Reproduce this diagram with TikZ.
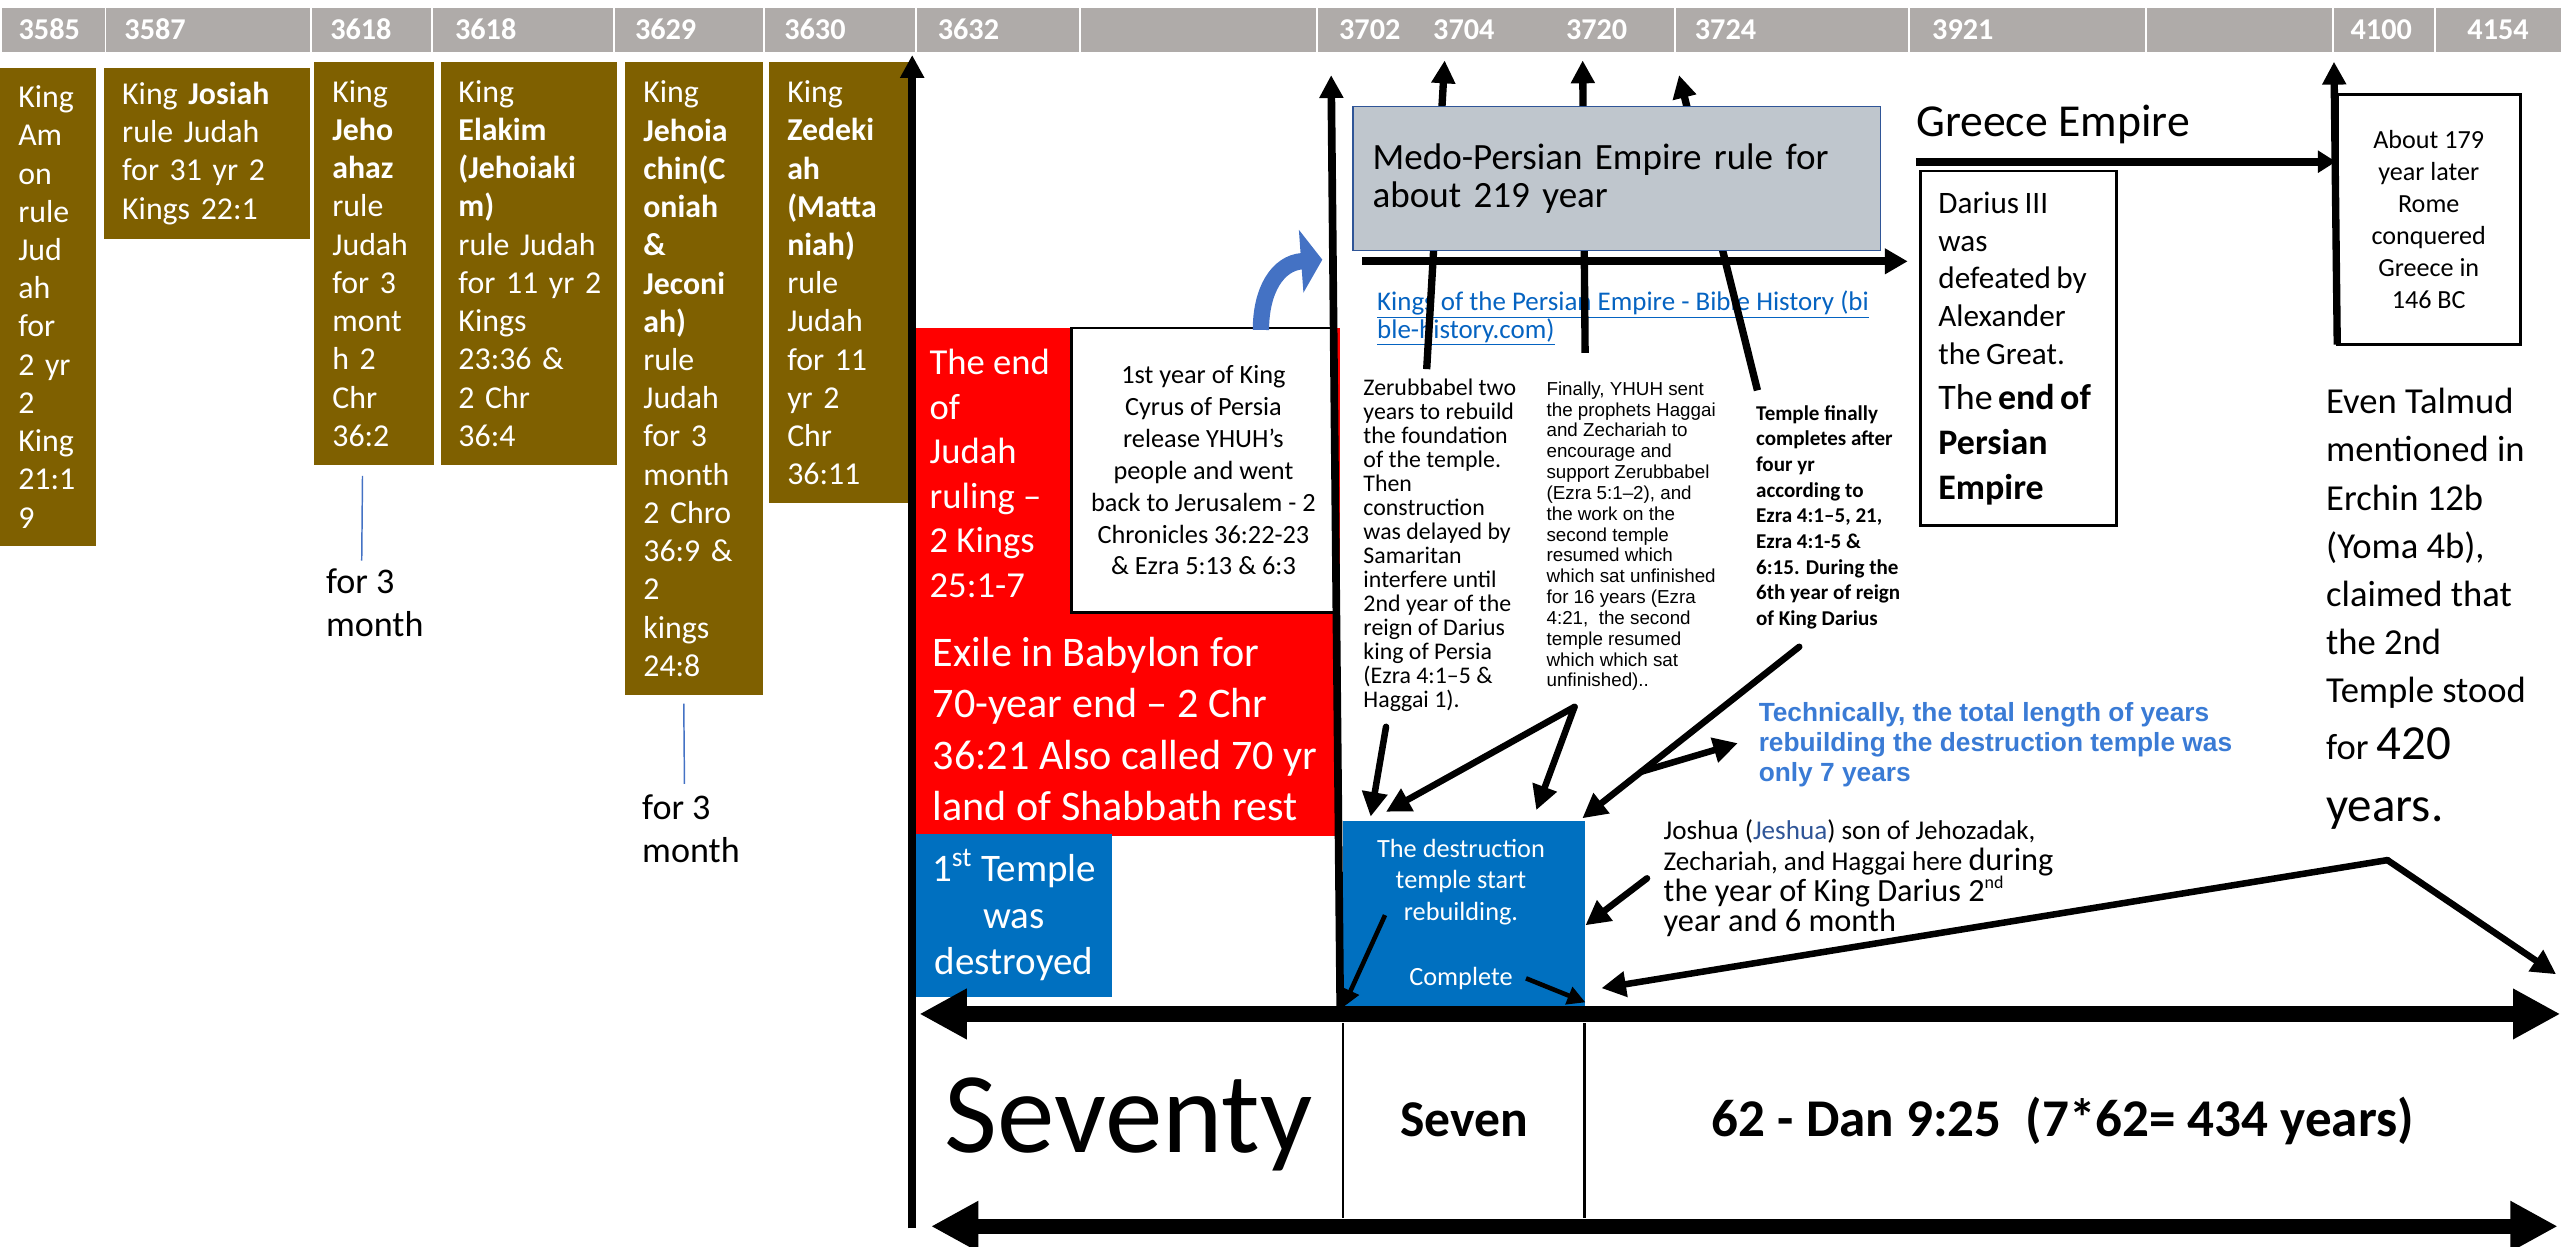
\documentclass[tikz,border=0pt]{standalone}
\usepackage{fontspec}
\setmainfont{Carlito}
\newfontfamily\arialfont{Liberation Sans}
\usetikzlibrary{arrows.meta}
\definecolor{kingbrown}{HTML}{7F6000}
\definecolor{bargray}{RGB}{175,171,169}
\definecolor{exilered}{HTML}{FF0000}
\definecolor{templeblue}{HTML}{0070C0}
\definecolor{medogray}{RGB}{191,198,205}
\definecolor{medoedge}{HTML}{2F5597}
\definecolor{curveblue}{HTML}{4472C4}
\definecolor{linkblue}{HTML}{0563C1}
\definecolor{noteblue}{HTML}{3A7BD5}
\definecolor{jeshuablue}{HTML}{2F5597}
\newcommand{\fsz}[2]{\fontsize{#1}{#2}\selectfont}

\begin{document}
\begin{tikzpicture}[x=1pt,y=-1pt,line join=miter]
	\tikzstyle{yearcell}=[draw=white,line width=1.2pt,fill=bargray,anchor=north west,minimum height=28.3pt,inner sep=0pt]
	\tikzstyle{yearlabel}=[anchor=west,inner sep=0pt,text=white,font={\fsz{18.5}{20}\bfseries}]
	\tikzstyle{kingbox}=[fill=kingbrown,text=white,anchor=north west,align=left,inner xsep=11pt,inner ysep=0pt,font={\fsz{19.5}{23.4}}]
	\tikzstyle{plain}=[anchor=north west,align=left,inner sep=0pt]
	\tikzstyle{uparrow}=[line width=4.5pt,-{Triangle[length=14pt,width=14pt]}]
	\tikzstyle{pointer}=[line width=4pt,line cap=round,-{Triangle[length=15pt,width=15pt]}]
	\tikzstyle{smallpointer}=[line width=2.8pt,-{Triangle[length=11pt,width=11pt]}]
	\tikzstyle{timeline}=[line width=9.5pt,{Triangle[length=29pt,width=29pt]}-{Triangle[length=29pt,width=29pt]}]
	\tikzstyle{monthline}=[curveblue,line width=0.9pt]
	
	\useasboundingbox (0,0) rectangle (1568,763);
	
	\foreach \xa/\xb [count=\i] in {0/64,64/190,190/264,264/375.5,375.5/467,467/560.5,560.5/660.5,660.5/806,806/1025,1025/1168,1168/1313,1313/1427.5,1427.5/1490.5,1490.5/1568}
		\node[yearcell,minimum width={\xb-\xa}] (cell\i) at (\xa,3.7) {};
	\foreach \lx/\yr [count=\i] in {11.2/3585,76/3587,202/3618,278.4/3618,388.6/3629,480/3630,574/3632,819.7/3702,877.3/3704,958.6/3720,1037.5/3724,1182.8/3921,1439/4100,1510.5/4154}
		\node[yearlabel] (year\i) at (\lx,18) {\yr};
	
	\node[kingbox,text width=36.6,minimum height=293] (amon) at (0,41.2)
		{King\\Am\\on\\rule\\Jud\\ah\\for\\2~yr\\2\\King\\21:1\\9};
	\node[kingbox,text width=103.8,minimum height=105] (josiah) at (63.6,41.2)
		{King~\textbf{Josiah}\\rule~Judah\\for~31~yr~2\\Kings~22:1};
	\node[kingbox,text width=51.5,minimum height=246.2] (ahaz) at (192.3,38)
		{King\\\textbf{Jeho}\\\textbf{ahaz}\\rule\\Judah\\for~3\\mont\\h~2\\Chr\\36:2};
	\node[kingbox,text width=85.8,minimum height=246.2] (elakim) at (269.5,38)
		{King\\\textbf{Elakim}\\\textbf{(Jehoiaki}\\\textbf{m)}\\rule~Judah\\for~11~yr~2\\Kings\\23:36~\&\\2~Chr\\36:4};
	\node[kingbox,text width=62.5,minimum height=387.4] (chin) at (382.7,38)
		{King\\\textbf{Jehoia}\\\textbf{chin(C}\\\textbf{oniah}\\\textbf{\&}\\\textbf{Jeconi}\\\textbf{ah)}\\rule\\Judah\\for~3\\month\\2~Chro\\36:9~\&\\2\\kings\\24:8};
	\node[kingbox,text width=63.5,minimum height=270] (zedekiah) at (470.8,38)
		{King\\\textbf{Zedeki}\\\textbf{ah}\\\textbf{(Matta}\\\textbf{niah)}\\rule\\Judah\\for~11\\yr~2\\Chr\\36:11};
	
	\node[plain,font={\fsz{22.1}{26.4}}] (ahazmonth) at (199.4,348.2) {for 3\\month};
	\node[plain,font={\fsz{22.1}{26.4}}] (chinmonth) at (393,486.6) {for 3\\month};
	\draw[monthline] ([xshift=-7.3pt,yshift=-6.8pt]ahaz.south) -- ([xshift=-8pt,yshift=5pt]ahazmonth.north);
	\draw[monthline] ([xshift=-6.5pt,yshift=-5pt]chin.south) -- ([xshift=-4pt,yshift=6.6pt]chinmonth.north);
	
	\node[fill=exilered,anchor=north west,minimum width=260.5,minimum height=311,inner sep=0pt] (redblock) at (560,200.7) {};
	\node[plain,text=white,font={\fsz{22.4}{27.3}}] (judahend) at (569,213.5)
		{The end\\of\\Judah\\ruling –\\2 Kings\\25:1-7};
	\node[plain,text=white,font={\fsz{25.8}{31.4}}] (exile) at (571,390)
		{Exile in Babylon for\\70-year end – 2 Chr\\36:21 Also called 70 yr\\land of Shabbath rest};
	\node[draw=black,line width=1.5pt,fill=white,minimum width=161.5,minimum height=174.3,align=center,font={\fsz{16.1}{19.55}}] (cyrus) at (736.8,287.9)
		{1st year of King\\Cyrus of Persia\\release YHUH’s\\people and went\\back to Jerusalem - 2\\Chronicles 36:22-23\\\& Ezra 5:13 \& 6:3};
	\node[fill=templeblue,text=white,minimum width=119.7,minimum height=99.8,inner sep=0pt,align=center,font={\fsz{23.9}{28.7}}] (firsttemple) at (620.9,560.3)
		{1\textsuperscript{st} Temple\\was\\destroyed};
	
	\coordinate (cyrbase) at (772,202);
	\coordinate (cyrtip) at (809.6,159);
	\draw[curveblue,line width=10pt,-{Triangle[length=13pt,width=38pt]}] (cyrbase) .. controls (772,178) and (782,161) .. (cyrtip);
	
	\node[plain,text=linkblue,font={\fsz{16.5}{17}}] (persianlink) at (843,177.7)
		{\underline{Kings of the Persian Empire - Bible History (bi}\\\underline{ble-history.com)}};
	\coordinate (p1a) at (873.5,226);
	\coordinate (p1b) at (884.5,37);
	\coordinate (p2a) at (970.5,216);
	\coordinate (p2b) at (969,37);
	\coordinate (p3a) at (1076,239);
	\coordinate (p3b) at (1028,46);
	\draw[uparrow] (p1a) -- (p1b);
	\draw[uparrow] (p2a) -- (p2b);
	\draw[uparrow] (p3a) -- (p3b);
	\node[fill=medogray,draw=medoedge,line width=0.8pt,anchor=north west,minimum height=88,text width=299,inner xsep=12pt,align=left,font={\fsz{22.7}{23.5}}] (medo) at (828,65)
		{Medo-Persian Empire rule for\\about 219 year};
	\coordinate (medoa) at (834,160);
	\coordinate (medob) at (1168,160);
	\draw[line width=5pt,-{Triangle[length=14pt,width=15pt]}] (medoa) -- (medob);
	
	\node[plain,font={\fsz{28}{30}}] (greece) at (1173,64.4) {Greece Empire};
	\node[draw=black,line width=1.6pt,anchor=north west,minimum height=217,text width=98,inner xsep=11pt,align=left] (darius) at (1175,104)
		{\fsz{19.1}{23.2}Darius III\\was\\defeated~by\\Alexander\\the Great.\par\fsz{22}{27.5}The~\textbf{end~of}\\\textbf{Persian}\\\textbf{Empire}\par};
	\node[draw=black,line width=1.6pt,minimum width=112,minimum height=153,align=center,font={\fsz{16}{19.6}}] (rome) at (1487,134.5)
		{About 179\\year later\\Rome\\conquered\\Greece in\\146 BC};
	\coordinate (greecea) at (1173,99);
	\draw[line width=5pt,-{Triangle[length=11pt,width=13pt]}] (greecea) -- ([yshift=35.5pt]rome.west);
	\coordinate (romebot) at (1431,211);
	\coordinate (rometop) at (1429,37.8);
	\draw[uparrow] (romebot) -- (rometop);
	\node[plain,font={\fsz{22.4}{29.5}}] (talmud) at (1424,237.5)
		{Even Talmud\\mentioned in\\Erchin 12b\\(Yoma 4b),\\claimed that\\the 2nd\\Temple stood\\[5pt]for {\fsz{30}{36}420}\\[8.5pt]{\fsz{30}{36}years.}};
	
	\node[plain,font={\fsz{14.6}{14.7}}] (zerub) at (834.6,232)
		{Zerubbabel two\\years to rebuild\\the foundation\\of the temple.\\Then\\construction\\was delayed by\\Samaritan\\interfere until\\2nd year of the\\reign of Darius\\king of Persia\\(Ezra 4:1–5 \&\\Haggai 1).};
	\node[plain,font={\arialfont\fsz{11.5}{12.75}}] (yhuh) at (946.7,233.5)
		{Finally, YHUH sent\\the prophets Haggai\\and Zechariah to\\encourage and\\support Zerubbabel\\(Ezra 5:1–2), and\\the work on the\\second temple\\resumed which\\which sat unfinished\\for 16 years (Ezra\\4:21,\ \ the second\\temple resumed\\which which sat\\unfinished)..};
	\node[plain,font={\fsz{12.9}{15.7}\bfseries}] (finished) at (1075,248)
		{Temple finally\\completes after\\four yr\\according to\\Ezra 4:1–5, 21,\\Ezra 4:1-5 \&\\6:15. During the\\6th year of reign\\of King Darius};
	\node[plain,text=noteblue,font={\arialfont\fsz{16.1}{18.3}\bfseries}] (sevenyears) at (1076.6,430)
		{Technically, the total length of years\\rebuilding the destruction temple was\\only 7 years};
	
	\node[fill=templeblue,minimum width=148,minimum height=114,inner sep=0pt] (rebuild) at (896.5,559.5) {};
	\node[text=white,align=center,inner sep=0pt,font={\fsz{16.1}{19.3}}] (rebuildtxt) at (894.5,540)
		{The destruction\\temple start\\rebuilding.};
	\node[text=white,inner sep=0pt,font={\fsz{16.1}{19.3}}] (complete) at (894.5,599) {Complete};
	\node[plain,font={\fsz{16.6}{18.8}}] (joshua) at (1018.4,501.7)
		{Joshua ({\color{jeshuablue}Jeshua}) son of Jehozadak,\\Zechariah, and Haggai here {\fsz{19.8}{18.8}during}\\{\fsz{19.8}{18.8}the year of King Darius 2\textsuperscript{\fsz{11}{12}nd}}\\{\fsz{19.8}{18.8}year and 6 month}};
	
	\coordinate (za) at (848.6,445);
	\coordinate (zb) at (839.2,500);
	\coordinate (vtop) at (964,432.8);
	\coordinate (vleft) at (848.6,497);
	\coordinate (vright) at (940.6,496);
	\coordinate (ftop) at (1101.6,396);
	\coordinate (fend) at (968.8,501);
	\coordinate (fmid) at (1004.8,472.5);
	\coordinate (fnote) at (1064,455);
	\coordinate (rebstart) at (848,560.3);
	\coordinate (apex) at (1461.7,526.6);
	\coordinate (apexl) at (980.5,605);
	\coordinate (apexr) at (1565,596.5);
	\draw[pointer] (za) -- (zb);
	\draw[pointer] (vtop) -- (vleft);
	\draw[pointer] (vtop) -- (vright);
	\draw[pointer] (ftop) -- (fend);
	\draw[pointer] (fmid) -- (fnote);
	\draw[pointer] (apex) -- (apexl);
	\draw[pointer] (apex) -- (apexr);
	\draw[smallpointer] (rebstart) -- (rebuild.south west);
	\draw[smallpointer] ([xshift=8pt]complete.east) -- ([yshift=3pt]rebuild.south east);
	\draw[pointer] ([xshift=-10pt]joshua.west) -- ([yshift=-7pt]rebuild.east);
	
	\coordinate (axisbot) at (558.5,752);
	\coordinate (axistop) at (558.5,33.7);
	\coordinate (returnbot) at (820.6,621);
	\coordinate (returntop) at (815,46);
	\draw[uparrow,line width=4.7pt] (axisbot) -- (axistop);
	\draw[uparrow,line width=4.7pt] (returnbot) -- (returntop);
	\coordinate (sep1a) at (822.4,626.5);
	\coordinate (sep1b) at (822.4,746);
	\coordinate (sep2a) at (970,626.5);
	\coordinate (sep2b) at (970,746);
	\draw[line width=1.5pt] (sep1a) -- (sep1b);
	\draw[line width=1.5pt] (sep2a) -- (sep2b);
	
	\coordinate (tla) at (562.9,620.8);
	\coordinate (tlb) at (1567.6,620.8);
	\coordinate (bla) at (570,750.8);
	\coordinate (blb) at (1566,750.8);
	\draw[timeline] (tla) -- (tlb);
	\draw[timeline] (bla) -- (blb);
	
	\node[anchor=base west,inner sep=0pt,font={\fsz{70.5}{80}}] (seventy) at (578,705.6) {Seventy};
	\node[anchor=base,inner sep=0pt,font={\fsz{31.6}{36}\bfseries}] (seven) at (896.4,696) {Seven};
	\node[anchor=base,inner sep=0pt,font={\fsz{32.5}{36}\bfseries}] (dan) at (1263,696) {62 - Dan 9:25\ \ (7*62= 434 years)};
\end{tikzpicture}
\end{document}
